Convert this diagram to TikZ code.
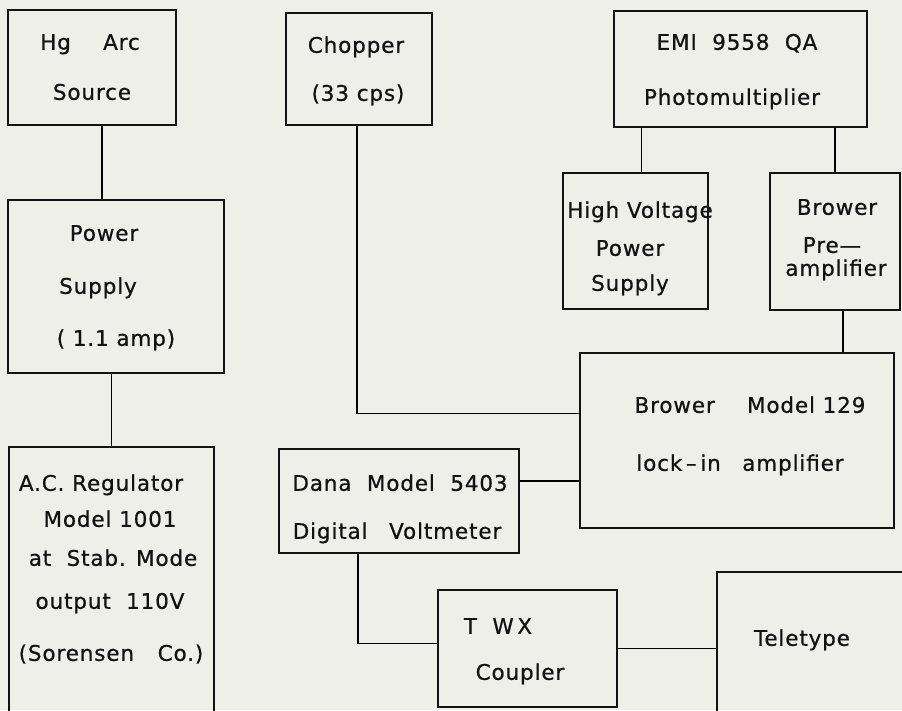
\documentclass[tikz,border=0pt]{standalone}
\usepackage{fontspec}
\setmainfont[LetterSpace=4,FakeBold=0.7]{DejaVu Sans}
\usetikzlibrary{fit}
\definecolor{paper}{RGB}{239,239,234}
\definecolor{ink}{RGB}{18,18,18}

\begin{document}
\begin{tikzpicture}[x=1pt,y=-1pt,line width=1.2pt,font=\fontsize{21.5}{25}\selectfont,
  box/.style={draw=ink,line width=1.7pt,inner sep=0pt},
  lbl/.style={inner sep=0pt,text height=15.6pt,text depth=0pt,text=ink}]
\useasboundingbox (0,0) rectangle (902,710);
\fill[paper] (0,0) rectangle (902,710);
% boxes
\node[box,fit={(8,10) (176,125)}] (hg) {};
\node[box,fit={(8,200) (224,373)}] (psu) {};
\node[box,fit={(9,447) (214,735)}] (acr) {};
\node[box,fit={(286,13) (432,125)}] (chop) {};
\node[box,fit={(614,11) (867,127)}] (emi) {};
\node[box,fit={(563,173) (708,309)}] (hv) {};
\node[box,fit={(770,173) (900,310)}] (pre) {};
\node[box,fit={(580,353) (894,528)}] (lock) {};
\node[box,fit={(279,449) (519,553)}] (dana) {};
\node[box,fit={(438,590) (617,707)}] (twx) {};
\node[box,fit={(717,572) (935,735)}] (tele) {};
% labels
\node[lbl] (hg-1) at (90,42) {Hg\hspace{1.5em}Arc};
\node[lbl] (hg-2) at (92,92) {Source};
\node[lbl] (psu-1) at (104,233) {Power};
\node[lbl] (psu-2) at (98,286) {Supply};
\node[lbl] (psu-3) at (116,338) {( 1.1 amp)};
\node[lbl] (acr-1) at (101,483) {A.C. Regulator};
\node[lbl] (acr-2) at (110,519) {Model 1001};
\node[lbl] (acr-3) at (113,558) {at\ \ Stab. Mode};
\node[lbl] (acr-4) at (110,601) {output\ \ 110V};
\node[lbl] (acr-5) at (111,653) {(Sorensen\hspace{1.1em}Co.)};
\node[lbl] (chop-1) at (356,45) {Chopper};
\node[lbl] (chop-2) at (358,93) {(33 cps)};
\node[lbl] (emi-1) at (737,42) {EMI\ \ 9558\ \ QA};
\node[lbl] (emi-2) at (732,97) {Photomultiplier};
\node[lbl] (hv-1) at (640,210) {High Voltage};
\node[lbl] (hv-2) at (630,248) {Power};
\node[lbl] (hv-3) at (630,283) {Supply};
\node[lbl] (pre-1) at (837,207) {Brower};
\node[lbl] (pre-2) at (832,245) {Pre---};
\node[lbl] (pre-3) at (836,268) {amplifier};
\node[lbl] (lock-1) at (750,405) {Brower\hspace{1.5em}Model 129};
\node[lbl] (lock-2) at (740,463) {lock\,--\,in\hspace{1em}amplifier};
\node[lbl] (dana-1) at (400,483) {Dana\ \ Model\ \ 5403};
\node[lbl] (dana-2) at (397,531) {Digital\hspace{1em}Voltmeter};
\node[lbl] (twx-1) at (498,626) {T\ \ W\,X};
\node[lbl] (twx-2) at (520,672) {Coupler};
\node[lbl] (tele-1) at (802,638) {Teletype};
% connectors
\draw ([xshift=10pt]hg.south) -- ([xshift=10pt]hg.south |- psu.north);
\draw (acr.north |- psu.south) -- (acr.north);
\draw ([xshift=-2pt]chop.south) |- ([yshift=27pt]lock.west);
\draw ([xshift=6pt]hv.north |- emi.south) -- ([xshift=6pt]hv.north);
\draw (pre.north |- emi.south) -- (pre.north);
\draw ([xshift=8pt]pre.south) -- ([xshift=8pt]pre.south |- lock.north);
\draw ([yshift=20pt]dana.east) -- ([yshift=20pt]dana.east -| lock.west);
\draw ([xshift=-41pt]dana.south) |- ([yshift=5pt]twx.west);
\draw (twx.east) -- (twx.east -| tele.west);
\end{tikzpicture}
\end{document}
